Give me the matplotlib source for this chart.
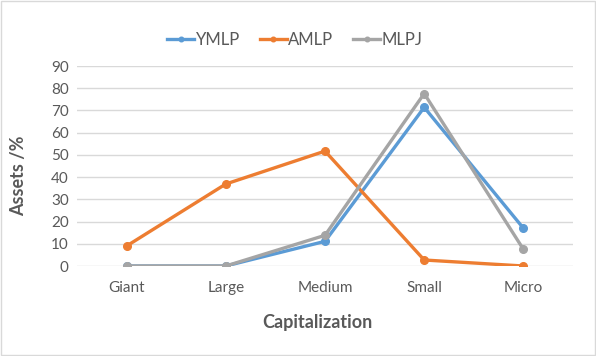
import matplotlib
matplotlib.use("Agg")
import matplotlib.pyplot as plt
from matplotlib.patches import Rectangle

categories = ["Giant", "Large", "Medium", "Small", "Micro"]
ymlp = [0, 0, 11.1, 71.4, 17.0]
amlp = [9.0, 36.9, 51.7, 2.7, 0.0]
mlpj = [0, 0, 13.8, 77.6, 7.5]
yticks = list(range(0, 100, 10))

plt.rcParams['font.family'] = ['Lato', 'DejaVu Sans']
grey_txt = "#595959"

fig = plt.figure(figsize=(5.96, 3.56), dpi=100)
ax = fig.add_axes([77/596, 1 - 266/356, 496/596, 200/356])

x = list(range(len(categories)))
ax.plot(x, ymlp, color="#5B9BD5", lw=2.4, marker="o", ms=5.5, label="YMLP", zorder=3)
ax.plot(x, amlp, color="#ED7D31", lw=2.4, marker="o", ms=5.5, label="AMLP", zorder=3)
ax.plot(x, mlpj, color="#A5A5A5", lw=2.4, marker="o", ms=5.5, label="MLPJ", zorder=3)

ax.set_xlim(-0.5, len(categories) - 0.5)
ax.set_ylim(0, 90)
ax.set_yticks(yticks)
ax.set_xticks(x)
ax.set_xticklabels(categories)
ax.grid(axis="y", color="#D9D9D9", lw=1)
ax.set_axisbelow(True)
for s in ax.spines.values():
    s.set_visible(False)
ax.tick_params(length=0, labelsize=11, labelcolor=grey_txt, pad=6)
ax.tick_params(axis="x", pad=11)

ax.set_ylabel("Assets /%", fontsize=13, fontweight="bold", color=grey_txt)
ax.yaxis.set_label_coords(-0.100, 0.45)
ax.set_xlabel("Capitalization", fontsize=13, fontweight="bold", color=grey_txt)
ax.xaxis.set_label_coords(0.484, -0.24)

fig.legend(*ax.get_legend_handles_labels(), loc="center", bbox_to_anchor=(0.495, 0.888),
           ncol=3, frameon=False, fontsize=12, labelcolor=grey_txt, handlelength=1.6,
           handletextpad=0.1, columnspacing=1.2, markerscale=0.6)

fig.patches.append(Rectangle((0.001, 0.002), 0.997, 0.995, transform=fig.transFigure,
                             fill=False, edgecolor="#D9D9D9", lw=1))

fig.savefig("out.png", dpi=100)
